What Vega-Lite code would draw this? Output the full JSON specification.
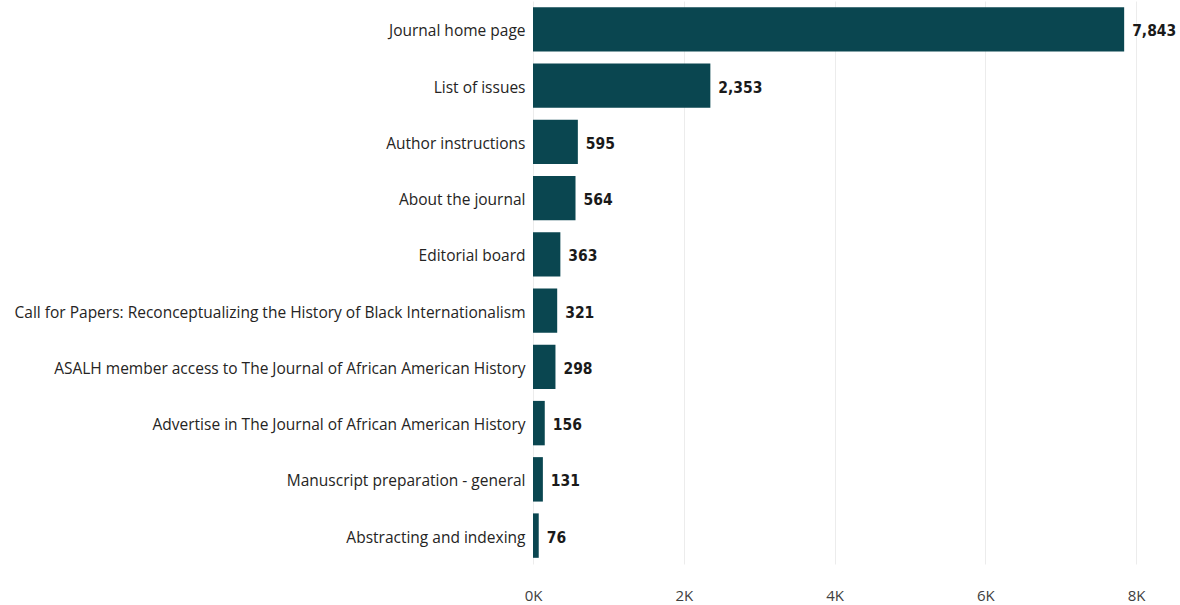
{
  "$schema": "https://vega.github.io/schema/vega-lite/v6.json",
  "autosize": {"type": "none"},
  "padding": {"left": 533, "top": 1, "right": 44, "bottom": 42},
  "width": 603,
  "height": 563,
  "background": "white",
  "config": {"view": {"stroke": null}},
  "data": {"values": [
    {"page": "Journal home page", "views": 7843},
    {"page": "List of issues", "views": 2353},
    {"page": "Author instructions", "views": 595},
    {"page": "About the journal", "views": 564},
    {"page": "Editorial board", "views": 363},
    {"page": "Call for Papers: Reconceptualizing the History of Black Internationalism", "views": 321},
    {"page": "ASALH member access to The Journal of African American History", "views": 298},
    {"page": "Advertise in The Journal of African American History", "views": 156},
    {"page": "Manuscript preparation - general", "views": 131},
    {"page": "Abstracting and indexing", "views": 76}
  ]},
  "encoding": {
    "y": {"field": "page", "type": "nominal", "sort": null,
      "scale": {"paddingInner": 0.21, "paddingOuter": 0.11},
      "axis": {"title": null, "ticks": false, "domain": false, "labelPadding": 8, "labelOffset": 2,
        "labelFont": "Open Sans", "labelFontSize": 15.5, "labelColor": "#252423", "labelLimit": 0}},
    "x": {"field": "views", "type": "quantitative",
      "scale": {"domain": [0, 8000], "nice": false},
      "axis": {"title": null, "ticks": false, "domain": false, "values": [0, 2000, 4000, 6000, 8000],
        "labelExpr": "datum.value/1000 + 'K'", "labelPadding": 24, "labelFlush": false,
        "labelFont": "Open Sans", "labelFontSize": 15, "labelColor": "#404040",
        "grid": true, "gridColor": "#ececec", "gridWidth": 1}}
  },
  "layer": [
    {"mark": {"type": "bar", "color": "#0a4650"}},
    {"mark": {"type": "text", "align": "left", "baseline": "middle", "dx": 8, "dy": 2,
      "font": "DejaVu Sans Condensed", "fontWeight": "bold", "fontSize": 15.5, "color": "#1a1a1a"},
      "encoding": {"text": {"field": "views", "type": "quantitative", "format": ","}}}
  ]
}
